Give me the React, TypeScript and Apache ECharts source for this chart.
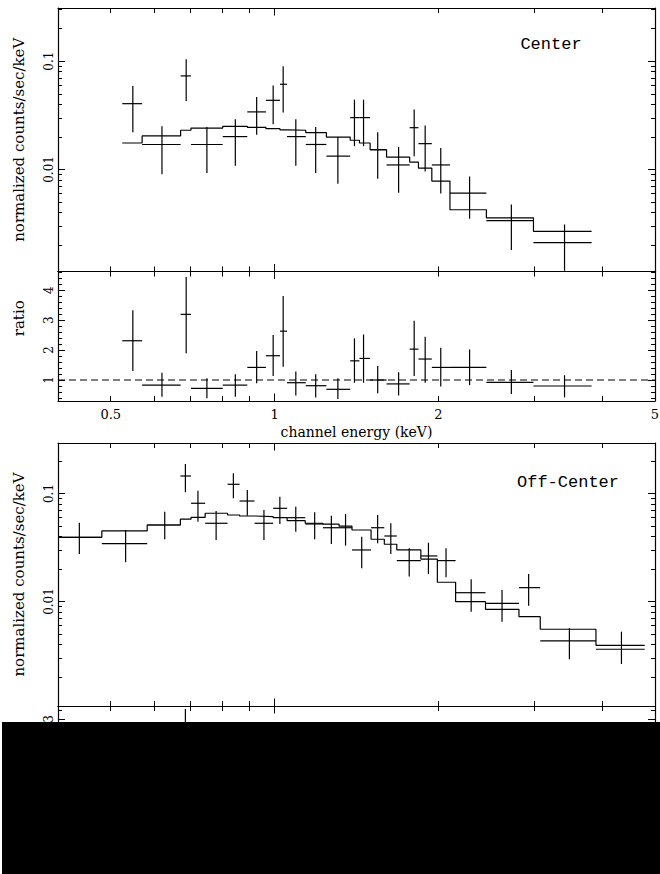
import React, { useEffect, useRef } from "react";
import * as echarts from "echarts";

// ---------- Center spectrum ----------
const centerEdges = [0.525, 0.571, 0.672, 0.702, 0.803, 0.891, 0.964, 1.023, 1.054, 1.141, 1.245, 1.377, 1.432, 1.498, 1.606, 1.771, 1.838, 1.945, 2.1, 2.45, 2.99, 3.824];
const centerEnergy = [0.549, 0.621, 0.688, 0.751, 0.847, 0.927, 0.994, 1.037, 1.094, 1.19, 1.307, 1.402, 1.457, 1.547, 1.69, 1.805, 1.891, 2.02, 2.282, 2.723, 3.41];
const centerRate = [0.0405, 0.017, 0.0731, 0.017, 0.0201, 0.034, 0.0435, 0.0612, 0.0201, 0.017, 0.01327, 0.0301, 0.0301, 0.0152, 0.011, 0.0243, 0.0173, 0.011, 0.00604, 0.00337, 0.00211];
const centerRateLow = [0.0221, 0.009, 0.0429, 0.00925, 0.0108, 0.0209, 0.0261, 0.0335, 0.0108, 0.00925, 0.00738, 0.0164, 0.0164, 0.0082, 0.00608, 0.0132, 0.00958, 0.006, 0.0035, 0.0018, 0.00116];
const centerRateHigh = [0.059, 0.025, 0.1044, 0.0247, 0.029, 0.0467, 0.0596, 0.0899, 0.029, 0.0247, 0.0199, 0.0441, 0.0441, 0.0221, 0.0161, 0.0357, 0.0254, 0.0158, 0.0086, 0.00474, 0.0031];
const centerModel = [0.01754, 0.0204, 0.023, 0.0241, 0.025, 0.0245, 0.0238, 0.0232, 0.023, 0.0219, 0.0199, 0.0186, 0.01754, 0.0152, 0.013, 0.0117, 0.01028, 0.0078, 0.00424, 0.00357, 0.00268];
const centerRatio = [2.31, 0.83, 3.19, 0.72, 0.83, 1.42, 1.81, 2.63, 0.91, 0.81, 0.69, 1.64, 1.72, 1.0, 0.87, 2.03, 1.7, 1.42, 1.42, 0.92, 0.8];
const centerRatioLow = [1.3, 0.44, 1.89, 0.39, 0.44, 0.89, 1.13, 1.44, 0.48, 0.42, 0.37, 0.91, 0.91, 0.56, 0.48, 1.13, 0.91, 0.78, 0.83, 0.53, 0.42];
const centerRatioHigh = [3.33, 1.24, 4.44, 1.06, 1.19, 1.97, 2.5, 3.8, 1.28, 1.19, 1.06, 2.39, 2.52, 1.47, 1.26, 2.98, 2.44, 2.08, 2.02, 1.33, 1.16];

// ---------- Off-Center spectrum ----------
const offEdges = [0.4, 0.4815, 0.5834, 0.6713, 0.7023, 0.7456, 0.8196, 0.8623, 0.9185, 0.9941, 1.0545, 1.1385, 1.2272, 1.3136, 1.3875, 1.5042, 1.5908, 1.6771, 1.8567, 1.991, 2.151, 2.441, 2.812, 3.077, 3.895, 4.787];
const offEnergy = [0.4378, 0.5325, 0.6283, 0.6857, 0.7231, 0.7809, 0.84, 0.891, 0.956, 1.0226, 1.0938, 1.1849, 1.2715, 1.3502, 1.4458, 1.5465, 1.6351, 1.7675, 1.9173, 2.0654, 2.2972, 2.6176, 2.9295, 3.4807, 4.3383];
const offRate = [0.0393, 0.0343, 0.0511, 0.1452, 0.0812, 0.053, 0.1217, 0.0852, 0.053, 0.0729, 0.0597, 0.0522, 0.0482, 0.0482, 0.03, 0.0482, 0.0404, 0.0239, 0.0264, 0.0239, 0.01206, 0.00962, 0.01343, 0.00431, 0.00361];
const offRateLow = [0.0275, 0.0231, 0.0377, 0.1026, 0.0548, 0.0371, 0.0903, 0.0623, 0.0371, 0.0522, 0.0443, 0.0377, 0.0341, 0.0329, 0.0203, 0.0346, 0.0275, 0.017, 0.018, 0.0168, 0.00805, 0.0065, 0.00914, 0.00292, 0.00264];
const offRateHigh = [0.0537, 0.0459, 0.0679, 0.1875, 0.1062, 0.0689, 0.154, 0.1077, 0.0703, 0.0934, 0.0755, 0.067, 0.0623, 0.0646, 0.0398, 0.0632, 0.053, 0.0311, 0.035, 0.0311, 0.01606, 0.01278, 0.018, 0.00565, 0.00525];
const offModel = [0.0393, 0.045, 0.0511, 0.058, 0.0602, 0.0656, 0.0632, 0.0619, 0.061, 0.0597, 0.056, 0.053, 0.052, 0.0498, 0.0459, 0.0377, 0.0339, 0.03, 0.0247, 0.01507, 0.00996, 0.00847, 0.00723, 0.00553, 0.00393];
const offRatio = [1.0, 0.76, 1.0, 2.5, 1.35, 0.81, 1.93, 1.38, 0.87, 1.19, 1.0, 0.93, 0.93, 0.97, 0.65, 1.28, 1.19, 0.8, 1.07, 1.59, 1.21, 1.14, 1.86, 0.78, 0.92];
const offRatioLow = [0.7, 0.51, 0.74, 1.77, 0.91, 0.57, 1.38, 1.01, 0.61, 0.86, 0.74, 0.67, 0.66, 0.66, 0.44, 0.92, 0.81, 0.57, 0.73, 1.11, 0.81, 0.77, 1.26, 0.53, 0.67];
const offRatioHigh = [1.37, 1.02, 1.33, 3.23, 1.76, 1.05, 2.35, 1.74, 1.15, 1.53, 1.26, 1.19, 1.2, 1.3, 0.87, 1.68, 1.56, 1.04, 1.42, 2.06, 1.61, 1.51, 2.49, 1.02, 1.34];

// ---------- Axes ----------
const energyRange = [0.4, 5];
const energyMinorTicks = [0.4, 0.5, 0.6, 0.7, 0.8, 0.9, 1, 2, 3, 4, 5];
const energyMajorTicks = [1];
const energyTickLabels = [0.5, 1, 2, 5];
const centerRateRange = [0.00114, 0.31];
const offRateRange = [0.001077, 0.2935];
const rateMinorTicks = [0.002, 0.003, 0.004, 0.005, 0.006, 0.007, 0.008, 0.009, 0.01, 0.02, 0.03, 0.04, 0.05, 0.06, 0.07, 0.08, 0.09, 0.1, 0.2, 0.3];
const rateMajorTicks = [0.01, 0.1];
const rateTickLabels = [0.01, 0.1];
const centerRatioRange = [0.3, 4.62];
const offRatioRange = [0.35, 3.3];
const ratioMinorTicks = [0.4, 0.6, 0.8, 1, 1.2, 1.4, 1.6, 1.8, 2, 2.2, 2.4, 2.6, 2.8, 3, 3.2, 3.4, 3.6, 3.8, 4, 4.2, 4.4, 4.6];
const ratioMajorTicks = [1, 2, 3, 4];
const ratioTickLabels = [1, 2, 3, 4];
const unityRatio = 1;

const lg = (v: number) => Math.log10(v);
const fmtLog = (v: number) => String(parseFloat(Math.pow(10, v).toPrecision(3)));
const fmtLin = (v: number) => String(parseFloat(v.toPrecision(3)));

const INK = "#000";
const SERIF = "DejaVu Serif";

function xAxesFor(grid: number, labels: boolean, name?: string) {
  const base: any = {
    type: "value",
    gridIndex: grid,
    min: lg(energyRange[0]),
    max: lg(energyRange[1]),
    splitLine: { show: false },
    axisLabel: { show: false },
  };
  const line = { show: true, onZero: false, lineStyle: { color: INK, width: 1.2 } };
  const noLine = { show: false, onZero: false };
  const minorTick = { show: true, inside: true, length: 5, customValues: energyMinorTicks.map(lg), lineStyle: { color: INK, width: 1 } };
  const majorTick = { show: true, inside: true, length: 7.5, customValues: energyMajorTicks.map(lg), lineStyle: { color: INK, width: 1 } };
  return [
    {
      ...base,
      position: "bottom",
      axisLine: line,
      axisTick: minorTick,
      axisLabel: labels
        ? { show: true, customValues: energyTickLabels.map(lg), formatter: fmtLog, margin: 7, color: INK, fontFamily: SERIF, fontSize: 13 }
        : { show: false },
      name: name || "",
      nameLocation: "middle",
      nameGap: 24,
      nameTextStyle: { color: INK, fontFamily: SERIF, fontSize: 14 },
    },
    { ...base, position: "bottom", axisLine: noLine, axisTick: majorTick },
    { ...base, position: "top", axisLine: line, axisTick: minorTick },
    { ...base, position: "top", axisLine: noLine, axisTick: majorTick },
  ];
}

function yAxesFor(grid: number, range: number[], minor: number[], major: number[], labels: number[], isLog: boolean, name: string, namePad: number[]) {
  const tr = isLog ? lg : (v: number) => v;
  const base: any = {
    type: "value",
    gridIndex: grid,
    min: tr(range[0]),
    max: tr(range[1]),
    splitLine: { show: false },
    axisLabel: { show: false },
  };
  const line = { show: true, onZero: false, lineStyle: { color: INK, width: 1.2 } };
  const noLine = { show: false, onZero: false };
  const minorTick = { show: true, inside: true, length: 4, customValues: minor.map(tr), lineStyle: { color: INK, width: 1 } };
  const majorTick = { show: true, inside: true, length: 7, customValues: major.map(tr), lineStyle: { color: INK, width: 1 } };
  return [
    {
      ...base,
      position: "left",
      axisLine: line,
      axisTick: minorTick,
      axisLabel: {
        show: true,
        customValues: labels.map(tr),
        formatter: isLog ? fmtLog : fmtLin,
        rotate: 90,
        margin: 3,
        color: INK,
        fontFamily: SERIF,
        fontSize: 12,
      },
      name,
      nameLocation: "middle",
      nameRotate: 90,
      nameGap: 32,
      nameTextStyle: { color: INK, fontFamily: SERIF, fontSize: 15, padding: namePad },
    },
    { ...base, position: "left", axisLine: noLine, axisTick: majorTick },
    { ...base, position: "right", axisLine: line, axisTick: minorTick },
    { ...base, position: "right", axisLine: noLine, axisTick: majorTick },
  ];
}

function renderCross(_params: any, api: any) {
  const y = api.value(3);
  const a = api.coord([api.value(0), y]);
  const b = api.coord([api.value(1), y]);
  const c = api.coord([api.value(2), api.value(4)]);
  const d = api.coord([api.value(2), api.value(5)]);
  const style = { stroke: INK, lineWidth: 1.2 };
  return {
    type: "group",
    children: [
      { type: "line", shape: { x1: a[0], y1: a[1], x2: b[0], y2: b[1] }, style },
      { type: "line", shape: { x1: c[0], y1: c[1], x2: d[0], y2: d[1] }, style },
    ],
  };
}

function crossSeries(axis: number, edges: number[], energy: number[], val: number[], lo: number[], hi: number[], isLog: boolean) {
  const tr = isLog ? lg : (v: number) => v;
  const data = energy.map((e, i) => [lg(edges[i]), lg(edges[i + 1]), lg(e), tr(val[i]), tr(lo[i]), tr(hi[i])]);
  return {
    type: "custom",
    xAxisIndex: axis,
    yAxisIndex: axis,
    renderItem: renderCross,
    encode: { x: [0, 1, 2], y: [3, 4, 5] },
    data,
    silent: true,
    z: 3,
  };
}

function modelSeries(axis: number, edges: number[], model: number[]) {
  const data: number[][] = [];
  model.forEach((m, i) => {
    data.push([lg(edges[i]), lg(m)]);
    data.push([lg(edges[i + 1]), lg(m)]);
  });
  return {
    type: "line",
    xAxisIndex: axis,
    yAxisIndex: axis,
    data,
    symbol: "none",
    showSymbol: false,
    lineStyle: { color: INK, width: 1.2 },
    silent: true,
    z: 2,
  };
}

function unitySeries(axis: number) {
  return {
    type: "line",
    xAxisIndex: axis,
    yAxisIndex: axis,
    data: [
      [lg(energyRange[0]), unityRatio],
      [lg(energyRange[1]), unityRatio],
    ],
    symbol: "none",
    showSymbol: false,
    lineStyle: { color: INK, width: 1.1, type: [7, 4] },
    silent: true,
    z: 1,
  };
}

export default function App() {
  const ref = useRef<HTMLDivElement>(null);
  useEffect(() => {
    if (!ref.current) return;
    const chart = echarts.init(ref.current, null, { renderer: "svg" });
    const grids = [
      { left: 58, right: 5, top: 8, height: 263.5 },
      { left: 58, right: 5, top: 271.5, height: 129.5 },
      { left: 58, right: 5, top: 443, height: 263 },
      { left: 58, right: 5, top: 706, height: 128 },
    ].map((g) => ({ ...g, containLabel: false, outerBoundsMode: "none" }));

    const xAxis = [
      ...xAxesFor(0, false),
      ...xAxesFor(1, true, "channel energy (keV)"),
      ...xAxesFor(2, false),
      ...xAxesFor(3, true, "channel energy (keV)"),
    ];
    const yAxis = [
      ...yAxesFor(0, centerRateRange, rateMinorTicks, rateMajorTicks, rateTickLabels, true, "normalized counts/sec/keV", [0, 0, 0, 0]),
      ...yAxesFor(1, centerRatioRange, ratioMinorTicks, ratioMajorTicks, ratioTickLabels, false, "ratio", [0, 0, 0, 36]),
      ...yAxesFor(2, offRateRange, rateMinorTicks, rateMajorTicks, rateTickLabels, true, "normalized counts/sec/keV", [0, 0, 0, 0]),
      ...yAxesFor(3, offRatioRange, ratioMinorTicks, ratioMajorTicks, ratioTickLabels, false, "ratio", [0, 0, 0, 0]),
    ];

    const series = [
      modelSeries(0, centerEdges, centerModel),
      crossSeries(0, centerEdges, centerEnergy, centerRate, centerRateLow, centerRateHigh, true),
      unitySeries(4),
      crossSeries(4, centerEdges, centerEnergy, centerRatio, centerRatioLow, centerRatioHigh, false),
      modelSeries(8, offEdges, offModel),
      crossSeries(8, offEdges, offEnergy, offRate, offRateLow, offRateHigh, true),
      unitySeries(12),
      crossSeries(12, offEdges, offEnergy, offRatio, offRatioLow, offRatioHigh, false),
    ];

    chart.setOption({
      animation: false,
      backgroundColor: "#fff",
      textStyle: { fontFamily: SERIF, color: INK },
      grid: grids,
      xAxis,
      yAxis,
      series,
      graphic: [
        {
          type: "text",
          x: 551,
          y: 44,
          style: { text: "Center", fill: INK, font: "17px 'Liberation Mono'", textAlign: "center", textVerticalAlign: "middle" },
        },
        {
          type: "text",
          x: 568,
          y: 482,
          style: { text: "Off-Center", fill: INK, font: "17px 'Liberation Mono'", textAlign: "center", textVerticalAlign: "middle" },
        },
        {
          type: "rect",
          z: 100,
          shape: { x: 2, y: 722, width: 658, height: 152 },
          style: { fill: "#000" },
        },
      ],
    });
    return () => chart.dispose();
  }, []);
  return <div ref={ref} style={{ position: "absolute", left: 0, top: 0, width: 660, height: 874 }} />;
}
